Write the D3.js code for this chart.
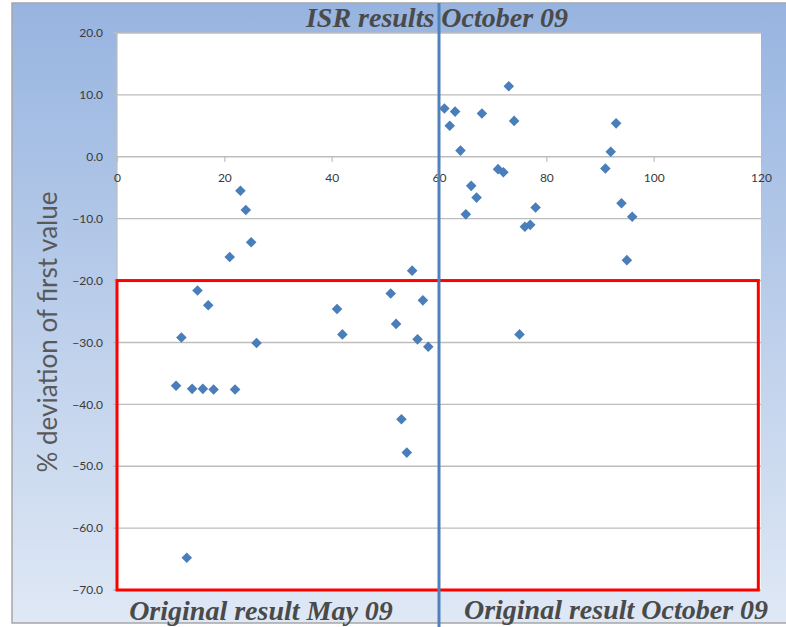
<!DOCTYPE html>
<html lang="en">
<head>
    <meta charset="utf-8">
    <title>ISR results</title>
    <script src="https://d3js.org/d3.v7.min.js"></script>
    <style>
        body { margin: 0; }
        svg { display: block; }
    </style>
</head>
<body>
<svg width="786" height="627"></svg>
<script>
    // sample index and % deviation
    var xValues = [11,12,13,14,15,16,17,18,21,22,23,24,25,26,
                   41,42,51,52,53,54,55,56,57,58,
                   61,62,63,64,65,66,67,68,71,72,73,74,75,76,77,78,
                   91,92,93,94,95,96];
    var yValues = [-37.0,-29.2,-64.8,-37.5,-21.6,-37.5,-24.0,-37.6,-16.2,-37.6,-5.5,-8.6,-13.8,-30.1,
                   -24.6,-28.7,-22.1,-27.0,-42.4,-47.8,-18.4,-29.5,-23.2,-30.7,
                   7.8,5.0,7.3,1.0,-9.3,-4.7,-6.6,7.0,-2.0,-2.5,11.4,5.8,-28.7,-11.3,-11.0,-8.2,
                   -1.9,0.8,5.4,-7.5,-16.7,-9.7];
    var xTicks = [0,20,40,60,80,100,120];
    var yTicks = [20,10,0,-10,-20,-30,-40,-50,-60,-70];
    var divider = 60;
    var boxX = [0,119.5], boxY = [-20,-70];

    var svg = d3.select("svg");
    var plot = {left:117, right:761, top:33, bottom:590};

    var x = d3.scaleLinear().domain([0,120]).range([plot.left, plot.right]);
    var y = d3.scaleLinear().domain([-70,20]).range([plot.bottom, plot.top]);

    // background
    var grad = svg.append("defs").append("linearGradient")
        .attr("id","bg").attr("x1",0).attr("y1",0).attr("x2",0).attr("y2",1);
    grad.append("stop").attr("offset","0%").attr("stop-color","#97b4e0");
    grad.append("stop").attr("offset","100%").attr("stop-color","#dfe8f5");
    svg.append("rect").attr("x",12).attr("y",3).attr("width",790).attr("height",620)
        .attr("fill","url(#bg)").attr("stroke","#a6a6a6").attr("stroke-width",1.5);

    svg.append("rect")
        .attr("x",plot.left).attr("y",plot.top)
        .attr("width",plot.right-plot.left).attr("height",plot.bottom-plot.top)
        .attr("fill","#fff");

    // horizontal gridlines
    svg.append("g").selectAll("line").data(yTicks).enter().append("line")
        .attr("x1",plot.left-4).attr("x2",plot.right)
        .attr("y1",function(d){ return y(d); }).attr("y2",function(d){ return y(d); })
        .attr("stroke","#bdbdbd").attr("stroke-width",1.4);
    svg.append("line").attr("x1",plot.left).attr("x2",plot.left)
        .attr("y1",plot.top).attr("y2",plot.bottom)
        .attr("stroke","#bdbdbd").attr("stroke-width",1.2);

    // y labels
    svg.append("g").selectAll("text").data(yTicks).enter().append("text")
        .attr("x",103).attr("y",function(d){ return y(d); }).attr("dy","0.35em")
        .attr("text-anchor","end")
        .style("font-family","Lato, 'Open Sans', sans-serif").style("font-size","12px")
        .attr("fill","#3a3a3a")
        .text(function(d){ return d3.format(".1f")(d); });

    // x axis on zero line
    var xAxis = d3.axisBottom(x).tickValues(xTicks).tickSize(5).tickPadding(12).tickFormat(d3.format("d"));
    var gx = svg.append("g").attr("transform","translate(0,"+y(0)+")").call(xAxis);
    gx.select(".domain").remove();
    gx.selectAll(".tick line").attr("stroke","#bdbdbd").attr("stroke-width",1.2);
    gx.selectAll(".tick text")
        .style("font-family","Lato, 'Open Sans', sans-serif").style("font-size","12px")
        .attr("fill","#3a3a3a");

    // highlight box
    svg.append("rect")
        .attr("x",x(boxX[0])).attr("y",y(boxY[0]))
        .attr("width",x(boxX[1])-x(boxX[0])).attr("height",y(boxY[1])-y(boxY[0]))
        .attr("fill","none").attr("stroke","#ff0000").attr("stroke-width",3);

    // points
    var diamond = d3.symbol().type(d3.symbolSquare).size(56);
    svg.append("g").selectAll("path").data(xValues).enter().append("path")
        .attr("d",diamond)
        .attr("transform",function(d,i){ return "translate("+x(d)+","+y(yValues[i])+") rotate(45)"; })
        .attr("fill","#4a7ebb");

    // labels
    var serif = "'Liberation Serif', 'Times New Roman', serif";
    svg.append("text").attr("x",437).attr("y",27).attr("text-anchor","middle")
        .style("font-family",serif).style("font-size","28px").style("font-weight","bold").style("font-style","italic")
        .attr("fill","#4a4a4a").text("ISR results October 09");
    svg.append("text").attr("x",261).attr("y",620).attr("text-anchor","middle")
        .style("font-family",serif).style("font-size","28px").style("font-weight","bold").style("font-style","italic")
        .attr("fill","#4a4a4a").text("Original result May 09");
    svg.append("text").attr("x",616).attr("y",619).attr("text-anchor","middle")
        .style("font-family",serif).style("font-size","28px").style("font-weight","bold").style("font-style","italic")
        .attr("fill","#4a4a4a").text("Original result October 09");

    svg.append("text")
        .attr("transform","translate(57,332) rotate(-90)")
        .attr("text-anchor","middle")
        .style("font-family","Lato, 'Open Sans', sans-serif").style("font-size","26px")
        .attr("fill","#595959").text("% deviation of first value");

    // divider line
    svg.append("line").attr("x1",x(divider)).attr("x2",x(divider))
        .attr("y1",3).attr("y2",627)
        .attr("stroke","#4f81bd").attr("stroke-width",3);
</script>
</body>
</html>
